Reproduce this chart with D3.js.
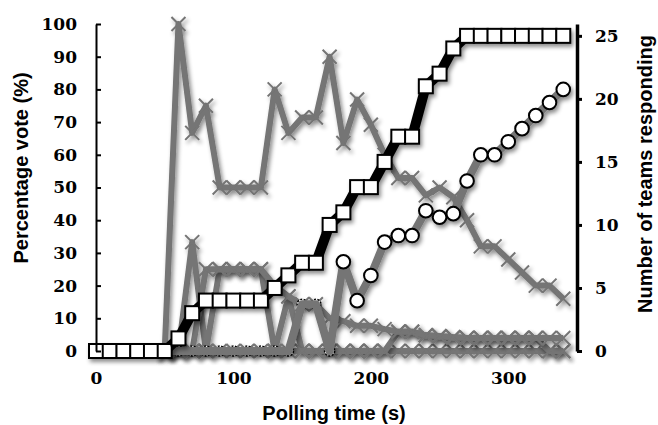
<!DOCTYPE html>
<html>
<head>
<meta charset="utf-8">
<script src="https://cdn.jsdelivr.net/npm/d3@7"></script>
<style>
body { margin: 0; background: #fff; }
.tick text { font-family: "DejaVu Serif", serif; font-weight: bold; font-size: 17px; fill: #000; }
.title { font-family: "Liberation Sans", Arial, sans-serif; font-weight: bold; font-size: 20px; fill: #000; }
</style>
</head>
<body>
<svg id="chart" width="658" height="425"></svg>
<script>
// polling times (s)
const times = [0,10,20,30,40,50,60,70,80,90,100,110,120,130,140,150,160,170,180,190,200,210,220,230,240,250,260,270,280,290,300,310,320,330,340]

// number of teams responding (right axis)
const teams = [0,0,0,0,0,0,1,3,4,4,4,4,4,5,6,7,7,10,11,13,13,15,17,17,21,22,24,25,25,25,25,25,25,25,25]

// percentage vote per answer (left axis), null before voting opens
const votesCorrect = [null,null,null,null,null,0,0,0,0,0,0,0,0,0,0,14.3,14.3,0,27.3,15.4,23.1,33.3,35.3,35.3,42.9,40.9,42,52,60,60,64,68,72,76,80]
const votesA = [null,null,null,null,null,0,100,66.7,75,50,50,50,50,80,66.7,71.4,71.4,90,63.6,76.9,69.2,60,52.9,52.9,47.6,50,47,40,32,32,28,24,20,20,16]
const votesB = [null,null,null,null,null,0,0,33.3,0,25,25,25,25,0,16.7,0,0,0,0,0,0,0,0,0,0,0,0,0,0,0,0,0,0,0,0]
const votesC = [null,null,null,null,null,0,0,0,25,25,25,25,25,20,16.7,14.3,14.3,10,9.1,7.7,7.7,6.7,5.9,5.9,4.8,4.5,4.2,4,4,4,4,4,4,4,4]
const votesE = [null,null,null,null,null,0,0,0,0,0,0,0,0,0,0,0,0,0,0,0,0,0,5.9,5.9,4.8,4.5,4.2,4,4,4,4,4,4,0,0]

const pctTicks = [0,10,20,30,40,50,60,70,80,90,100]
const teamTicks = [0,5,10,15,20,25]
const timeTicks = [0,100,200,300]

const gray = '#747474'

const svg = d3.select('#chart')

// drop shadow like the original
const defs = svg.append('defs')
defs.append('filter')
    .attr('id', 'shadow')
    .attr('x', '-20%').attr('y', '-20%').attr('width', '140%').attr('height', '140%')
  .append('feDropShadow')
    .attr('dx', 2).attr('dy', 3)
    .attr('stdDeviation', 2.2)
    .attr('flood-color', '#000')
    .attr('flood-opacity', 0.45)

const x = d3.scaleLinear().domain([0, 350]).range([96, 577])
const yL = d3.scaleLinear().domain([0, 100]).range([351, 24])
const yR = d3.scaleLinear().domain([0, 25.94]).range([351, 24])

const rows = arr => times.map((t, i) => ({t: t, v: arr[i]}))

const pctLine = d3.line()
    .defined(d => d.v != null)
    .x(d => x(d.t))
    .y(d => yL(d.v))

const crossPath = 'M-7,-7L7,7M-7,7L7,-7'

function drawCrossSeries(arr, width) {
    const g = svg.append('g').attr('filter', 'url(#shadow)')
    const data = rows(arr)
    g.append('path')
        .datum(data)
        .attr('fill', 'none')
        .attr('stroke', gray)
        .attr('stroke-width', width)
        .attr('stroke-linejoin', 'round')
        .attr('d', pctLine)
    g.selectAll('.cross')
      .data(data.filter(d => d.v != null))
      .join('path')
        .attr('class', 'cross')
        .attr('transform', d => `translate(${x(d.t)},${yL(d.v)})`)
        .attr('d', crossPath)
        .attr('stroke', gray)
        .attr('stroke-width', 2)
}

drawCrossSeries(votesB, 6)
drawCrossSeries(votesE, 6)
drawCrossSeries(votesC, 6)
drawCrossSeries(votesA, 6)

// early correct-answer markers, half hidden among the other answers
const correct = rows(votesCorrect)
svg.append('g')
  .selectAll('circle')
  .data(correct.filter(d => d.v != null && d.t < 180))
  .join('circle')
    .attr('cx', d => x(d.t))
    .attr('cy', d => yL(d.v))
    .attr('r', 5)
    .attr('fill', '#fff')
    .attr('stroke', '#000')
    .attr('stroke-width', 1.5)
    .attr('stroke-dasharray', '2,1.5')

// correct answer
const gc = svg.append('g').attr('filter', 'url(#shadow)')
gc.append('path')
    .datum(correct)
    .attr('fill', 'none')
    .attr('stroke', gray)
    .attr('stroke-width', 8)
    .attr('stroke-linejoin', 'round')
    .attr('d', pctLine)
gc.selectAll('circle')
  .data(correct.filter(d => d.t >= 180))
  .join('circle')
    .attr('cx', d => x(d.t))
    .attr('cy', d => yL(d.v))
    .attr('r', 6.8)
    .attr('fill', '#fff')
    .attr('stroke', '#000')
    .attr('stroke-width', 2)

// teams responding
const teamRows = rows(teams)
const gt = svg.append('g').attr('filter', 'url(#shadow)')
gt.append('path')
    .datum(teamRows)
    .attr('fill', 'none')
    .attr('stroke', '#000')
    .attr('stroke-width', 10)
    .attr('stroke-linejoin', 'round')
    .attr('d', d3.line().x(d => x(d.t)).y(d => yR(d.v)))
gt.selectAll('rect')
  .data(teamRows)
  .join('rect')
    .attr('x', d => x(d.t) - 7)
    .attr('y', d => yR(d.v) - 7)
    .attr('width', 14)
    .attr('height', 14)
    .attr('fill', '#fff')
    .attr('stroke', '#000')
    .attr('stroke-width', 2)

// axes
const yAxisL = svg.append('g')
    .attr('transform', `translate(${x(0)},0)`)
    .call(d3.axisLeft(yL).tickValues(pctTicks).tickSize(-5).tickSizeOuter(0).tickPadding(19))
yAxisL.select('.domain').attr('stroke-width', 2)
yAxisL.selectAll('.tick line').attr('stroke-width', 2)

const yAxisR = svg.append('g')
    .attr('transform', `translate(${x(350)},0)`)
    .call(d3.axisRight(yR).tickValues(teamTicks).tickSize(5).tickSizeOuter(0).tickPadding(13))
yAxisR.select('.domain').attr('stroke-width', 3.5)
yAxisR.selectAll('.tick line').attr('stroke-width', 3)

const xAxis = svg.append('g')
    .attr('transform', `translate(0,${yL(0)})`)
    .call(d3.axisBottom(x).tickValues(timeTicks).tickSize(0).tickPadding(21))
xAxis.select('.domain').remove()

// titles
svg.append('text')
    .attr('class', 'title')
    .attr('text-anchor', 'middle')
    .attr('transform', 'translate(28,168) rotate(-90)')
    .text('Percentage vote (%)')

svg.append('text')
    .attr('class', 'title')
    .attr('text-anchor', 'middle')
    .attr('transform', 'translate(652,174) rotate(-90)')
    .text('Number of teams responding')

svg.append('text')
    .attr('class', 'title')
    .attr('text-anchor', 'middle')
    .attr('x', 334)
    .attr('y', 420)
    .text('Polling time (s)')
</script>
</body>
</html>
